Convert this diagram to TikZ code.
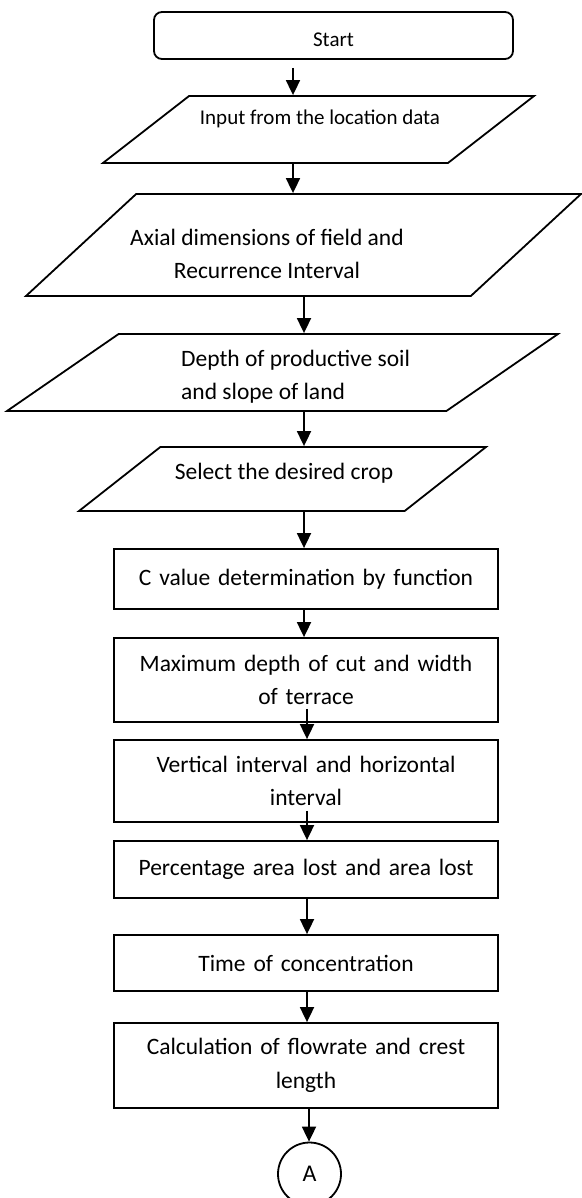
\documentclass[tikz,border=0pt]{standalone}
\usepackage{fontspec}
\setmainfont{Carlito}
\usetikzlibrary{arrows.meta,positioning,shapes.geometric}
\newcommand{\bigtxt}{\fontsize{23.5}{33.5}\selectfont}
\newcommand{\smalltxt}{\fontsize{21}{25}\selectfont}
\tikzset{
  box/.style={draw, line width=1.8pt, align=center, text width=370pt, inner sep=0pt, minimum width=384pt, font=\bigtxt},
  io/.style={draw, line width=1.8pt, trapezium, trapezium stretches body, inner sep=0pt, text height=#1, text depth=#1},
  txt/.style={inner sep=0pt, font=\bigtxt},
  arr/.style={-{Triangle[length=15pt,width=14pt]}, line width=1.8pt}}
\begin{document}
\begin{tikzpicture}[x=1pt, y=-1pt]
  \useasboundingbox (0,0) rectangle (581,1198);
  \node[draw, rounded corners=8pt, line width=1.8pt, minimum width=359pt, minimum height=47pt, text height=23pt, font=\smalltxt] (start) at (333.5,35.5) {Start};
  \node[io=33.5pt, trapezium left angle=37.9, trapezium right angle=142.1, minimum width=431pt] (input) at (318.5,129.5) {};
  \node[txt, font=\smalltxt] (input-txt) at (320,119) {Input from the location data};
  \node[io=51pt, trapezium left angle=42.8, trapezium right angle=137.2, minimum width=555pt] (axial) at (303.5,245) {};
  \node[txt, align=center] (axial-txt) at (267,254) {Axial dimensions of field and\\Recurrence Interval};
  \node[io=38.5pt, trapezium left angle=34.6, trapezium right angle=145.4, minimum width=551pt] (soil) at (282.5,372.5) {};
  \node[txt, align=left, anchor=west] (soil-txt) at (181,376.5) {Depth of productive soil\\and slope of land};
  \node[io=32pt, trapezium left angle=38.2, trapezium right angle=141.8, minimum width=407pt] (crop) at (282.5,479) {};
  \node[txt] (crop-txt) at (284,473) {Select the desired crop};
  \node[box, minimum height=60pt] (cval) at (306,579) {C value determination by function};
  \node[box, minimum height=84pt] (maxcut) at (306,680) {Maximum depth of cut and width\\of terrace};
  \node[box, minimum height=82pt] (intv) at (306,781) {Vertical interval and horizontal\\interval};
  \node[box, minimum height=57pt] (lost) at (306,869.5) {Percentage area lost and area lost};
  \node[box, minimum height=56pt] (tconc) at (306,963) {Time of concentration};
  \node[box, minimum height=85pt] (flow) at (306,1065.5) {Calculation of flowrate and crest\\length};
  \node[draw, circle, line width=1.8pt, minimum size=63pt, inner sep=0pt, font=\fontsize{24}{28}\selectfont] (conA) at (309.5,1174) {A};
  \coordinate (colA) at (293,0);
  \coordinate (colB) at (304,0);
  \coordinate (colC) at (307,0);
  \coordinate (colD) at (309,0);
  \draw[arr] ([yshift=-8pt]start.south -| colA) -- (input.north -| colA);
  \draw[arr] (input.south -| colA) -- (axial.north -| colA);
  \foreach \a/\b in {axial/soil, soil/crop, crop/cval, cval/maxcut} {\draw[arr] (\a.south -| colB) -- (\b.north -| colB);}
  \draw[arr] ([yshift=14pt]maxcut.south -| colC) -- (intv.north -| colC);
  \draw[arr] ([yshift=12pt]intv.south -| colC) -- (lost.north -| colC);
  \foreach \a/\b in {lost/tconc, tconc/flow} {\draw[arr] (\a.south -| colC) -- (\b.north -| colC);}
  \draw[arr] (flow.south -| colD) -- (conA.north -| colD);
\end{tikzpicture}
\end{document}
